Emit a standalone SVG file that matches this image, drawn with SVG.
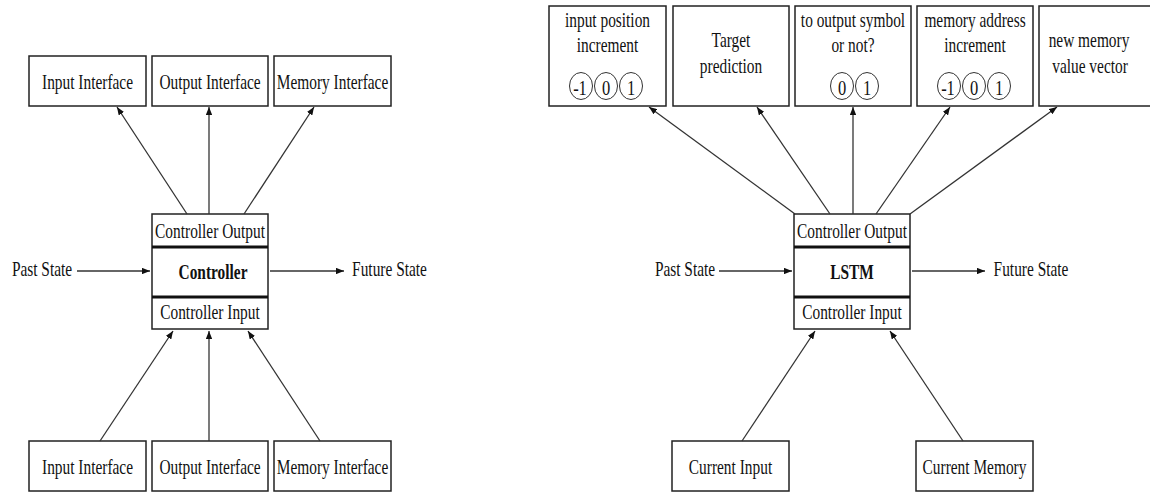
<svg xmlns="http://www.w3.org/2000/svg" width="1150" height="492" viewBox="0 0 1150 492">
<style>
.box{fill:#fff;stroke:#222;stroke-width:1.5}
.div{stroke:#111;stroke-width:3}
.t{font-family:"Liberation Serif","Times New Roman",serif;font-size:22px;fill:#111;text-anchor:middle}
.b{font-weight:bold}
.c{fill:none;stroke:#333;stroke-width:1}
.ln{stroke:#333;stroke-width:1.3;fill:none;marker-end:url(#ah)}
</style>
<defs>
<marker id="ah" viewBox="0 0 10 8" refX="10" refY="4" markerWidth="8" markerHeight="6.4" markerUnits="userSpaceOnUse" orient="auto">
<path d="M0,0 L10,4 L0,8 z" fill="#111"/>
</marker>
</defs>
<rect width="1150" height="492" fill="#fff"/>

<!-- LEFT DIAGRAM -->
<g id="l-top-input"><rect class="box" x="29" y="56" width="117" height="50"/><text class="t" transform="translate(87.5,89) scale(0.7,1)">Input Interface</text></g>
<g id="l-top-output"><rect class="box" x="152" y="56" width="116" height="50"/><text class="t" transform="translate(210,89) scale(0.7,1)">Output Interface</text></g>
<g id="l-top-memory"><rect class="box" x="274" y="56" width="117" height="50"/><text class="t" transform="translate(332.5,89) scale(0.7,1)">Memory Interface</text></g>

<g id="l-controller">
<rect class="box" x="152" y="214" width="116" height="115"/>
<line class="div" x1="152" y1="247" x2="268" y2="247"/>
<line class="div" x1="152" y1="297" x2="268" y2="297"/>
<text class="t" transform="translate(210,238) scale(0.7,1)">Controller Output</text>
<text class="t b" transform="translate(213,279) scale(0.7,1)">Controller</text>
<text class="t" transform="translate(210,319) scale(0.7,1)">Controller Input</text>
</g>
<g id="l-past"><text class="t" transform="translate(42,276) scale(0.7,1)">Past State</text></g>
<g id="l-future"><text class="t" transform="translate(389.5,276) scale(0.7,1)">Future State</text></g>

<g id="l-bot-input"><rect class="box" x="29" y="441" width="117" height="50"/><text class="t" transform="translate(87.5,474) scale(0.7,1)">Input Interface</text></g>
<g id="l-bot-output"><rect class="box" x="152" y="441" width="116" height="50"/><text class="t" transform="translate(210,474) scale(0.7,1)">Output Interface</text></g>
<g id="l-bot-memory"><rect class="box" x="274" y="441" width="117" height="50"/><text class="t" transform="translate(332.5,474) scale(0.7,1)">Memory Interface</text></g>

<!-- RIGHT DIAGRAM -->
<g id="r-top-inpos">
<rect class="box" x="549" y="6" width="117" height="100"/>
<text class="t" transform="translate(607.5,27) scale(0.7,1)">input position</text>
<text class="t" transform="translate(607.5,52) scale(0.7,1)">increment</text>
<ellipse class="c" cx="581" cy="86" rx="11.5" ry="13.5"/><ellipse class="c" cx="606" cy="86" rx="11.5" ry="13.5"/><ellipse class="c" cx="631" cy="86" rx="11.5" ry="13.5"/>
<text class="t" transform="translate(580,95) scale(0.75,1)">-1</text>
<text class="t" transform="translate(606,95) scale(0.75,1)">0</text>
<text class="t" transform="translate(631,95) scale(0.75,1)">1</text>
</g>
<g id="r-top-target">
<rect class="box" x="673" y="6" width="116" height="100"/>
<text class="t" transform="translate(731,47) scale(0.7,1)">Target</text>
<text class="t" transform="translate(731,73) scale(0.7,1)">prediction</text>
</g>
<g id="r-top-outsym">
<rect class="box" x="795" y="6" width="116" height="100"/>
<text class="t" transform="translate(853,27) scale(0.7,1)">to output symbol</text>
<text class="t" transform="translate(853,52) scale(0.7,1)">or not?</text>
<ellipse class="c" cx="842" cy="86" rx="11.5" ry="13.5"/><ellipse class="c" cx="867" cy="86" rx="11.5" ry="13.5"/>
<text class="t" transform="translate(842,95) scale(0.75,1)">0</text>
<text class="t" transform="translate(867,95) scale(0.75,1)">1</text>
</g>
<g id="r-top-memaddr">
<rect class="box" x="917" y="6" width="116" height="100"/>
<text class="t" transform="translate(975,27) scale(0.7,1)">memory address</text>
<text class="t" transform="translate(975,52) scale(0.7,1)">increment</text>
<ellipse class="c" cx="949" cy="86" rx="11.5" ry="13.5"/><ellipse class="c" cx="974" cy="86" rx="11.5" ry="13.5"/><ellipse class="c" cx="999" cy="86" rx="11.5" ry="13.5"/>
<text class="t" transform="translate(948,95) scale(0.75,1)">-1</text>
<text class="t" transform="translate(974,95) scale(0.75,1)">0</text>
<text class="t" transform="translate(999,95) scale(0.75,1)">1</text>
</g>
<g id="r-top-newmem">
<rect class="box" x="1039" y="6" width="118" height="100"/>
<text class="t" transform="translate(1089,47) scale(0.7,1)">new memory</text>
<text class="t" transform="translate(1090,73) scale(0.7,1)">value vector</text>
</g>

<g id="r-lstm">
<rect class="box" x="794" y="214" width="116" height="115"/>
<line class="div" x1="794" y1="247" x2="910" y2="247"/>
<line class="div" x1="794" y1="297" x2="910" y2="297"/>
<text class="t" transform="translate(852,238) scale(0.7,1)">Controller Output</text>
<text class="t b" transform="translate(852,279) scale(0.7,1)">LSTM</text>
<text class="t" transform="translate(852,319) scale(0.7,1)">Controller Input</text>
</g>
<g id="r-past"><text class="t" transform="translate(685,276) scale(0.7,1)">Past State</text></g>
<g id="r-future"><text class="t" transform="translate(1031,276) scale(0.7,1)">Future State</text></g>

<g id="r-bot-curinput"><rect class="box" x="672" y="441" width="117" height="50"/><text class="t" transform="translate(730.5,474) scale(0.7,1)">Current Input</text></g>
<g id="r-bot-curmem"><rect class="box" x="916" y="441" width="117" height="50"/><text class="t" transform="translate(974.5,474) scale(0.7,1)">Current Memory</text></g>

<!-- CONNECTORS -->
<g id="connectors">
<line class="ln" x1="187" y1="214" x2="117" y2="107"/>
<line class="ln" x1="209" y1="214" x2="209" y2="107"/>
<line class="ln" x1="244" y1="214" x2="314" y2="107"/>
<line class="ln" x1="77" y1="271" x2="150" y2="271"/>
<line class="ln" x1="270" y1="271" x2="344" y2="271"/>
<line class="ln" x1="100" y1="441" x2="173" y2="331"/>
<line class="ln" x1="209" y1="441" x2="209" y2="331"/>
<line class="ln" x1="320" y1="441" x2="248" y2="331"/>

<line class="ln" x1="795" y1="214" x2="649" y2="107"/>
<line class="ln" x1="830" y1="214" x2="757" y2="107"/>
<line class="ln" x1="853" y1="214" x2="853" y2="107"/>
<line class="ln" x1="876" y1="214" x2="950" y2="107"/>
<line class="ln" x1="910" y1="214" x2="1057" y2="107"/>
<line class="ln" x1="719" y1="271" x2="792" y2="271"/>
<line class="ln" x1="912" y1="271" x2="985" y2="271"/>
<line class="ln" x1="742" y1="441" x2="815" y2="331"/>
<line class="ln" x1="963" y1="441" x2="890" y2="331"/>
</g>
</svg>
